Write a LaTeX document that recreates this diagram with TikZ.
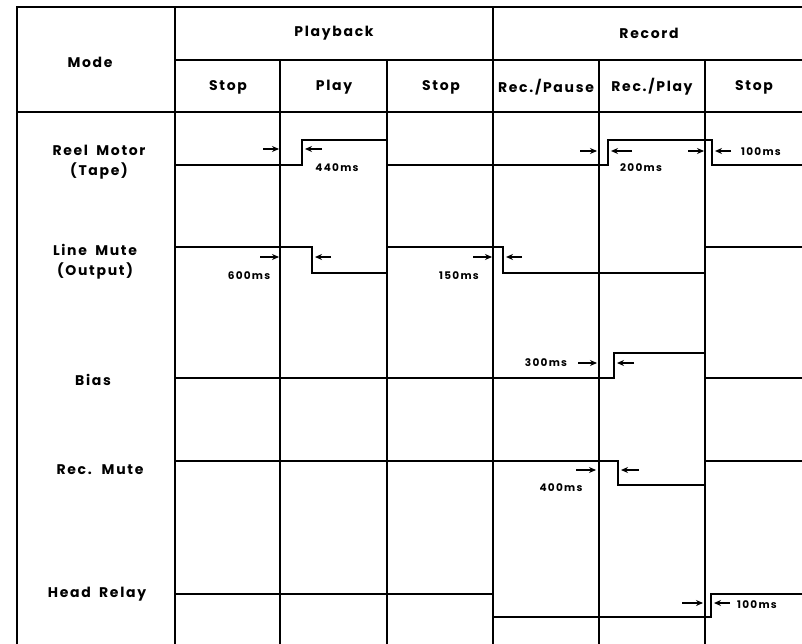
\documentclass[tikz,border=0pt]{standalone}
\usepackage{fontspec}
\setmainfont{Poppins}[LetterSpace=12, WordSpace=1.8]
\usepackage{tikz}
\usetikzlibrary{arrows.meta}

\tikzset{
  grid/.style={line width=1.8pt, black},
  sig/.style={line width=2.8pt, black, line join=miter},
  tick/.style={line width=1.3pt, -{Stealth[length=7pt,width=6pt]}},
  hdr/.style={font=\fontsize{14}{16}\selectfont\bfseries},
  row/.style={font=\fontsize{14}{20}\selectfont\bfseries, align=center},
  ms/.style={font=\fontsize{10.5}{12}\selectfont\bfseries, inner sep=1pt}
}

\begin{document}
\begin{tikzpicture}[x=1pt, y=-1pt]
  \useasboundingbox (0,0) rectangle (802,644);

  % Table frame
  \draw[grid] (802,7) -- (17,7) -- (17,644);
  \draw[grid] (175,7) -- (175,644);
  \draw[grid] (493,7) -- (493,644);
  \draw[grid] (175,60) -- (802,60);
  \draw[grid] (17,112) -- (802,112);
  \foreach \x in {280,387,599,705}
    \draw[grid] (\x,60) -- (\x,644);

  % Header
  \node[hdr] (mode) at (90,62) {Mode};
  \node[hdr] (playback) at (334,33) {Playback};
  \node[hdr] (record) at (649,33) {Record};
  \node[hdr] (stopA) at (228,87) {Stop};
  \node[hdr] (play) at (334,87) {Play};
  \node[hdr] (stopB) at (441,87) {Stop};
  \node[hdr] (recpause) at (546,87) {Rec./Pause};
  \node[hdr] (recplay) at (652,87) {Rec./Play};
  \node[hdr] (stopC) at (754,87) {Stop};

  % Row labels
  \node[row] (reel) at (99,162) {Reel Motor\\(Tape)};
  \node[row] (mute) at (95,262) {Line Mute\\(Output)};
  \node[row] (bias) at (93,380) {Bias};
  \node[row] (recmute) at (100,470) {Rec. Mute};
  \node[row] (relay) at (97,594) {Head Relay};

  % Reel Motor
  \draw[sig] (175,165) -- (302,165) -- (302,140) -- (387,140) -- (387,165)
    -- (608,165) -- (608,140) -- (712,140) -- (712,165) -- (802,165);
  \draw[tick] (263,149) -- (279,149);
  \draw[tick] (322,149) -- (305,149);
  \node[ms] (t440) at (337,168) {440ms};
  \draw[tick] (580,151) -- (597,151);
  \draw[tick] (632,151) -- (611,151);
  \node[ms] (t200) at (641,168) {200ms};
  \draw[tick] (688,151) -- (704,151);
  \draw[tick] (731,151) -- (715,151);
  \node[ms] (t100a) at (761,152) {100ms};

  % Line Mute
  \draw[sig] (175,247) -- (312,247) -- (312,273) -- (387,273) -- (387,247)
    -- (503,247) -- (503,273) -- (705,273) -- (705,247) -- (802,247);
  \draw[tick] (260,257) -- (279,257);
  \draw[tick] (331,257) -- (315,257);
  \node[ms] (t600) at (249,276) {600ms};
  \draw[tick] (473,257) -- (492,257);
  \draw[tick] (522,257) -- (506,257);
  \node[ms] (t150) at (459,276) {150ms};

  % Bias
  \draw[sig] (175,378) -- (614,378) -- (614,353) -- (705,353) -- (705,378) -- (802,378);
  \draw[tick] (578,363) -- (597,363);
  \draw[tick] (634,363) -- (617,363);
  \node[ms] (t300) at (546,363) {300ms};

  % Rec. Mute
  \draw[sig] (175,461) -- (618,461) -- (618,485) -- (705,485) -- (705,461) -- (802,461);
  \draw[tick] (576,470) -- (596,470);
  \draw[tick] (639,470) -- (621,470);
  \node[ms] (t400) at (561,488) {400ms};

  % Head Relay
  \draw[sig] (175,594) -- (493,594) -- (493,617) -- (711,617) -- (711,594) -- (802,594);
  \draw[tick] (682,603) -- (703,603);
  \draw[tick] (730,603) -- (714,603);
  \node[ms] (t100b) at (757,605) {100ms};
\end{tikzpicture}
\end{document}
